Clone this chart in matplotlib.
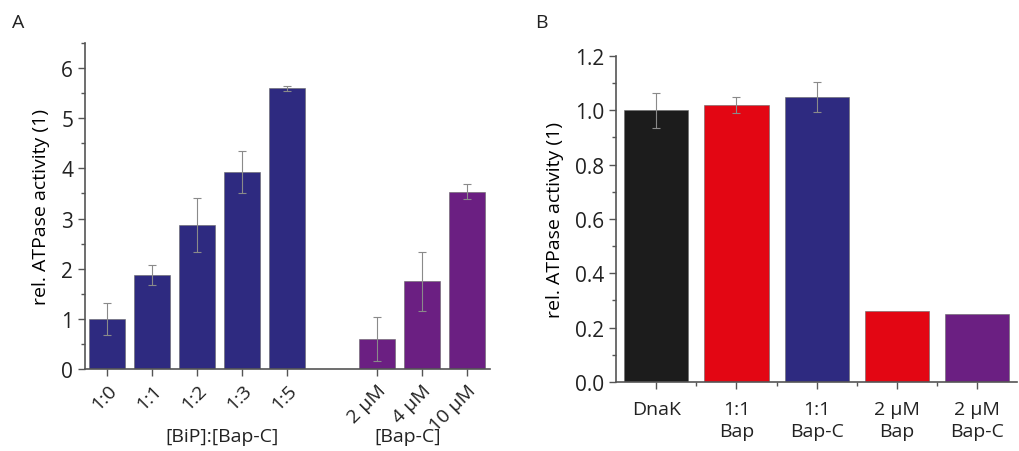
import matplotlib.pyplot as plt
import matplotlib.transforms as mtransforms
from matplotlib.ticker import MultipleLocator, FixedLocator

plt.rcParams['font.family'] = ['Open Sans', 'DejaVu Sans']

# panel A data
a_labels = ['1:0', '1:1', '1:2', '1:3', '1:5', '2 µM', '4 µM', '10 µM']
a_pos = [0, 1, 2, 3, 4, 6, 7, 8]
a_vals = [1.0, 1.88, 2.87, 3.93, 5.60, 0.60, 1.75, 3.53]
a_err = [0.32, 0.20, 0.53, 0.42, 0.05, 0.44, 0.59, 0.15]
a_group = ['[BiP]:[Bap-C]', '[Bap-C]']

# panel B data
b_labels = ['DnaK', '1:1\nBap', '1:1\nBap-C', '2 µM\nBap', '2 µM\nBap-C']
b_vals = [1.0, 1.02, 1.05, 0.26, 0.25]
b_err = [0.065, 0.03, 0.055, 0.0, 0.0]

navy = '#2e2a80'
purple = '#6b1f82'
red = '#e30613'
black = '#1c1c1c'
a_colors = [navy] * 5 + [purple] * 3
b_colors = [black, red, navy, red, purple]
axcol = '#555555'
txtcol = '#222222'

fig = plt.figure(figsize=(10.19, 4.52), dpi=100)
ax1 = fig.add_axes([0.0834, 0.181, 0.397, 0.722])
ax2 = fig.add_axes([0.6045, 0.153, 0.394, 0.721])

for ax in (ax1, ax2):
    for s in ('top', 'right'):
        ax.spines[s].set_visible(False)
    for s in ('left', 'bottom'):
        ax.spines[s].set_color(axcol)
        ax.spines[s].set_linewidth(1.2)
    ax.tick_params(colors=axcol, labelcolor=txtcol, width=1.0, length=5)
    ax.tick_params(which='minor', colors=axcol, width=1.0, length=3)

# panel A
ax1.bar(a_pos, a_vals, width=0.8, color=a_colors, edgecolor='#666666', linewidth=0.4)
ax1.errorbar(a_pos, a_vals, yerr=a_err, fmt='none', ecolor='#8a8a8a',
             elinewidth=0.8, capsize=3, capthick=0.8)
ax1.set_xlim(-0.5, 8.5)
ax1.set_ylim(0, 6.5)
ax1.yaxis.set_major_locator(MultipleLocator(1))
ax1.yaxis.set_minor_locator(MultipleLocator(0.5))
ax1.set_xticks(a_pos)
ax1.set_xticklabels(a_labels, rotation=45, ha='right', rotation_mode='anchor', fontsize=14)
ax1.tick_params(axis='y', labelsize=15)
ax1.set_ylabel('rel. ATPase activity (1)', fontsize=14, labelpad=8)
# the zero label sits a bit low in the original
zlab = ax1.yaxis.get_major_ticks()[0].label1
zlab.set_transform(zlab.get_transform() +
                   mtransforms.ScaledTranslation(0, -0.15, fig.dpi_scale_trans))
tr = mtransforms.blended_transform_factory(ax1.transData, fig.transFigure)
ax1.text(2.56, 0.033, a_group[0], transform=tr, ha='center', va='center',
         fontsize=14, color=txtcol)
ax1.text(6.67, 0.033, a_group[1], transform=tr, ha='center', va='center',
         fontsize=14, color=txtcol)

# panel B
b_pos = list(range(len(b_vals)))
ax2.bar(b_pos, b_vals, width=0.8, color=b_colors, edgecolor='#666666', linewidth=0.4)
e_pos = [p for p, e in zip(b_pos, b_err) if e > 0]
e_val = [v for v, e in zip(b_vals, b_err) if e > 0]
e_err = [e for e in b_err if e > 0]
ax2.errorbar(e_pos, e_val, yerr=e_err, fmt='none', ecolor='#8a8a8a',
             elinewidth=0.8, capsize=3, capthick=0.8)
ax2.set_xlim(-0.5, 4.5)
ax2.set_ylim(0, 1.2)
ax2.yaxis.set_major_locator(MultipleLocator(0.2))
ax2.yaxis.set_minor_locator(MultipleLocator(0.1))
ax2.yaxis.set_major_formatter(plt.FormatStrFormatter('%.1f'))
ax2.set_xticks(b_pos)
ax2.xaxis.set_minor_locator(FixedLocator([0.5, 1.5, 2.5, 3.5]))
ax2.set_xticklabels(b_labels, fontsize=14, ha='center', linespacing=1.3)
ax2.tick_params(axis='x', pad=8)
ax2.tick_params(axis='y', labelsize=15)
ax2.set_ylabel('rel. ATPase activity (1)', fontsize=14, labelpad=8)

fig.text(0.012, 0.95, 'A', fontsize=14, va='center', color=txtcol)
fig.text(0.525, 0.95, 'B', fontsize=14, va='center', color=txtcol)

fig.savefig('out.png', dpi=100)
